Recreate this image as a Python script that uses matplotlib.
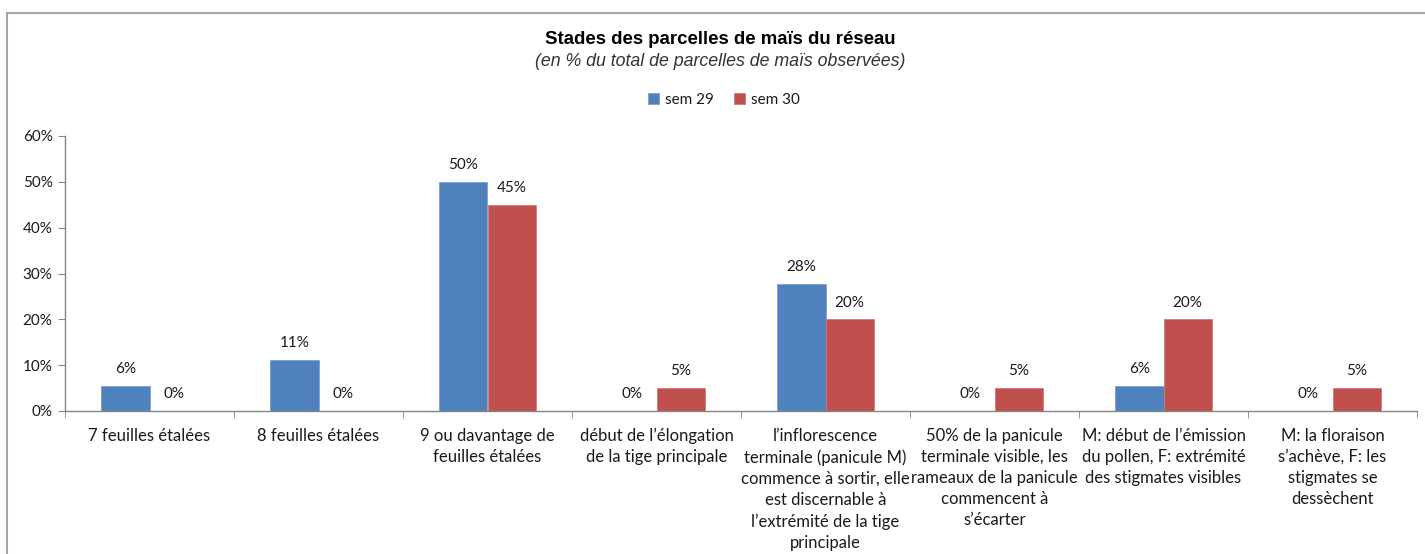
import matplotlib
matplotlib.use("Agg")
import matplotlib.pyplot as plt
from matplotlib.patches import Rectangle
import numpy as np

categories = [
    "7 feuilles étalées",
    "8 feuilles étalées",
    "9 ou davantage de\nfeuilles étalées",
    "début de l’élongation\nde la tige principale",
    "l’inflorescence\nterminale (panicule M)\ncommence à sortir, elle\nest discernable à\nl’extrémité de la tige\nprincipale",
    "50% de la panicule\nterminale visible, les\nrameaux de la panicule\ncommencent à\ns’écarter",
    "M: début de l’émission\ndu pollen, F: extrémité\ndes stigmates visibles",
    "M: la floraison\ns’achève, F: les\nstigmates se\ndessèchent",
]
sem29 = [5.56, 11.11, 50.0, 0.0, 27.78, 0.0, 5.56, 0.0]
sem30 = [0.0, 0.0, 45.0, 5.0, 20.0, 5.0, 20.0, 5.0]
series_names = ["sem 29", "sem 30"]
yticks = [0, 10, 20, 30, 40, 50, 60]

blue = "#4F81BD"
red = "#C0504D"
axis_col = "#868686"
txt_col = "#1a1a1a"
label_font = "Lato"

fig = plt.figure(figsize=(14.25, 5.54), dpi=100)
# outer frame
fig.patches.append(Rectangle((7 / 1425, -0.1), 1.2, (554 - 13) / 554 + 0.1,
                             transform=fig.transFigure, fill=False,
                             edgecolor="#a6a6a6", linewidth=1.5, zorder=0))

ax = fig.add_axes([65 / 1425, (554 - 411) / 554, 1352 / 1425, 275 / 554])
x = np.arange(len(categories))
w = 0.285
b1 = ax.bar(x - w / 2, sem29, w, color=blue, edgecolor="#7da0cc", linewidth=0.6, label=series_names[0])
b2 = ax.bar(x + w / 2, sem30, w, color=red, edgecolor="#d07a78", linewidth=0.6, label=series_names[1])

for bars, vals in ((b1, sem29), (b2, sem30)):
    for rect, v in zip(bars, vals):
        ax.annotate(f"{round(v):.0f}%", (rect.get_x() + rect.get_width() / 2, v),
                    xytext=(0, 7), textcoords="offset points", ha="center", va="bottom",
                    fontsize=11, family=label_font, color=txt_col)

ax.set_xlim(-0.5, len(categories) - 0.5)
ax.set_ylim(0, 60)
ax.set_yticks(yticks)
ax.set_yticklabels([f"{t}%" for t in yticks], fontsize=11, family=label_font, color=txt_col)
ax.set_xticks(x)
ax.set_xticklabels(categories, fontsize=12, family=label_font, color=txt_col,
                   linespacing=1.4, va="top")
ax.set_xticks(np.arange(len(categories) + 1) - 0.5, minor=True)
ax.tick_params(axis="x", which="major", length=0, pad=12)
ax.tick_params(axis="x", which="minor", length=5, color=axis_col, direction="out")
ax.tick_params(axis="y", length=5, color=axis_col, direction="out", pad=4)
for s in ("top", "right"):
    ax.spines[s].set_visible(False)
for s in ("left", "bottom"):
    ax.spines[s].set_color(axis_col)
    ax.spines[s].set_linewidth(1.0)

fig.text(720 / 1425, 1 - 40 / 554, "Stades des parcelles de maïs du réseau",
         ha="center", va="center", fontsize=13.4, family="Liberation Sans", weight="bold", color="black")
fig.text(720 / 1425, 1 - 61 / 554, "(en % du total de parcelles de maïs observées)",
         ha="center", va="center", fontsize=12.8, family="Liberation Sans", style="italic", color="#333333")

leg = fig.legend(handles=[b1, b2], labels=series_names, loc="center",
                 bbox_to_anchor=(724 / 1425, 1 - 100 / 554), ncol=2, frameon=False,
                 prop={"family": label_font, "size": 11}, handlelength=0.7, handleheight=0.7,
                 handletextpad=0.4, columnspacing=1.3)
for t in leg.get_texts():
    t.set_color(txt_col)

fig.savefig("out.png", dpi=100)
